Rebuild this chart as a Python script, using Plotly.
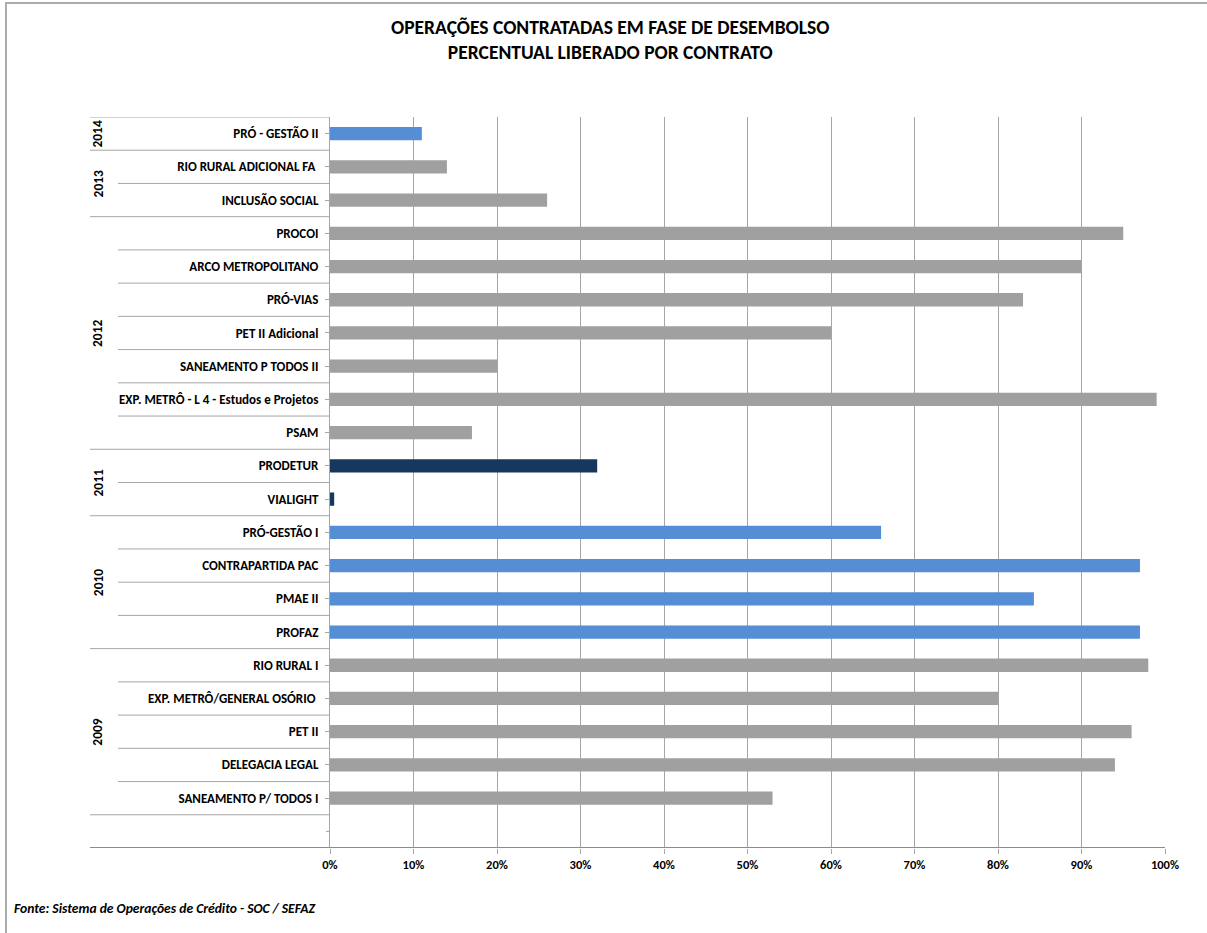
import plotly.graph_objects as go

# ---- data ----
contracts = [
    "PRÓ - GESTÃO II",
    "RIO RURAL ADICIONAL FA ",
    "INCLUSÃO SOCIAL",
    "PROCOI",
    "ARCO METROPOLITANO",
    "PRÓ-VIAS",
    "PET II Adicional",
    "SANEAMENTO P TODOS II",
    "EXP. METRÔ - L 4 - Estudos e Projetos",
    "PSAM",
    "PRODETUR",
    "VIALIGHT",
    "PRÓ-GESTÃO I",
    "CONTRAPARTIDA PAC",
    "PMAE II",
    "PROFAZ",
    "RIO RURAL I",
    "EXP. METRÔ/GENERAL OSÓRIO ",
    "PET II",
    "DELEGACIA LEGAL",
    "SANEAMENTO P/ TODOS I",
]
years = [2014, 2013, 2013, 2012, 2012, 2012, 2012, 2012, 2012, 2012,
         2011, 2011, 2010, 2010, 2010, 2010, 2009, 2009, 2009, 2009, 2009]
pct_released = [0.11, 0.14, 0.26, 0.95, 0.90, 0.83, 0.60, 0.20, 0.99, 0.17,
                0.32, 0.005, 0.66, 0.97, 0.843, 0.97, 0.98, 0.80, 0.96, 0.94, 0.53]
year_colors = {2014: "#558ED5", 2013: "#A0A0A0", 2012: "#A0A0A0",
               2011: "#17375E", 2010: "#558ED5", 2009: "#A0A0A0"}
x_ticks = [0, 0.1, 0.2, 0.3, 0.4, 0.5, 0.6, 0.7, 0.8, 0.9, 1.0]
x_tick_labels = ["0%", "10%", "20%", "30%", "40%", "50%", "60%", "70%", "80%", "90%", "100%"]

FONT = "Carlito, 'Liberation Sans Narrow', 'DejaVu Sans Condensed', sans-serif"
LINE = "#A6A6A6"

fig = go.Figure()
fig.add_trace(go.Bar(
    y=contracts, x=pct_released, orientation="h",
    marker=dict(color=[year_colors[y] for y in years], line=dict(width=0)),
    width=0.4, showlegend=False,
))

n = len(contracts)
shapes = []
annotations = []

# row separators on the category axis
x_long = (90 - 330) / 835
x_short = (118 - 330) / 835
group_bounds = []
for i in range(n):
    if i == 0 or years[i] != years[i - 1]:
        group_bounds.append(i)
for k in range(n + 1):
    yb = k - 0.5
    is_long = k in group_bounds or k == n
    shapes.append(dict(type="line", xref="paper", yref="y",
                       x0=x_long if is_long else x_short, x1=0, y0=yb, y1=yb,
                       line=dict(color=LINE, width=1)))
# empty row tick
shapes.append(dict(type="line", xref="paper", yref="y", x0=-4 / 835, x1=0,
                   y0=n, y1=n, line=dict(color=LINE, width=1)))
# bottom axis line extended left
shapes.append(dict(type="line", xref="paper", yref="y", x0=x_long, x1=1,
                   y0=n + 0.5, y1=n + 0.5, line=dict(color="#8C8C8C", width=2)))
# outer frame
shapes.append(dict(type="rect", xref="paper", yref="paper",
                   x0=(6 - 330) / 835, x1=1.2, y0=-0.3, y1=1 + (117 - 3) / 731,
                   line=dict(color="#ABABAB", width=2), fillcolor="rgba(0,0,0,0)",
                   layer="below"))

# year group labels
group_bounds.append(n)
for a, b in zip(group_bounds[:-1], group_bounds[1:]):
    annotations.append(dict(text=str(years[a]), xref="paper", yref="y",
                            x=(98 - 330) / 835, y=(a + b - 1) / 2, textangle=-90,
                            showarrow=False, xanchor="center", yanchor="middle",
                            font=dict(family=FONT, size=13.5, color="#000000", weight="bold")))

# title
annotations.append(dict(text="OPERAÇÕES CONTRATADAS EM FASE DE DESEMBOLSO<br>PERCENTUAL LIBERADO POR CONTRATO",
                        xref="paper", yref="paper", x=(610 - 330) / 835, y=(848 - 40) / 731,
                        showarrow=False, xanchor="center", yanchor="middle",
                        font=dict(family=FONT, size=19.5, color="#000000", weight="bold")))
# source
annotations.append(dict(text="<i>Fonte: Sistema de Operações de Crédito - SOC / SEFAZ</i>",
                        xref="paper", yref="paper", x=(12 - 330) / 835, y=(848 - 908) / 731,
                        showarrow=False, xanchor="left", yanchor="middle",
                        font=dict(family=FONT, size=13.6, color="#000000", weight="bold")))

fig.update_layout(
    width=1207, height=933,
    margin=dict(l=330, r=42, t=117, b=85),
    paper_bgcolor="white", plot_bgcolor="white",
    shapes=shapes, annotations=annotations,
    bargap=0.6,
    xaxis=dict(range=[0, 1], tickvals=x_ticks, ticktext=x_tick_labels,
               showgrid=True, gridcolor=LINE, gridwidth=1,
               zeroline=False, showline=False,
               ticks="outside", ticklen=5, tickcolor=LINE,
               tickfont=dict(family=FONT, size=12.5, color="#000000", weight="bold"),
               fixedrange=True),
    yaxis=dict(categoryorder="array", categoryarray=contracts,
               range=[n + 0.5, -0.5], type="category",
               showgrid=False, zeroline=False,
               showline=True, linecolor=LINE, linewidth=1,
               ticks="outside", ticklen=4, tickcolor=LINE,
               ticklabelstandoff=4,
               tickfont=dict(family=FONT, size=13, color="#000000", weight="bold"),
               fixedrange=True),
)

fig.write_html("out.html")
